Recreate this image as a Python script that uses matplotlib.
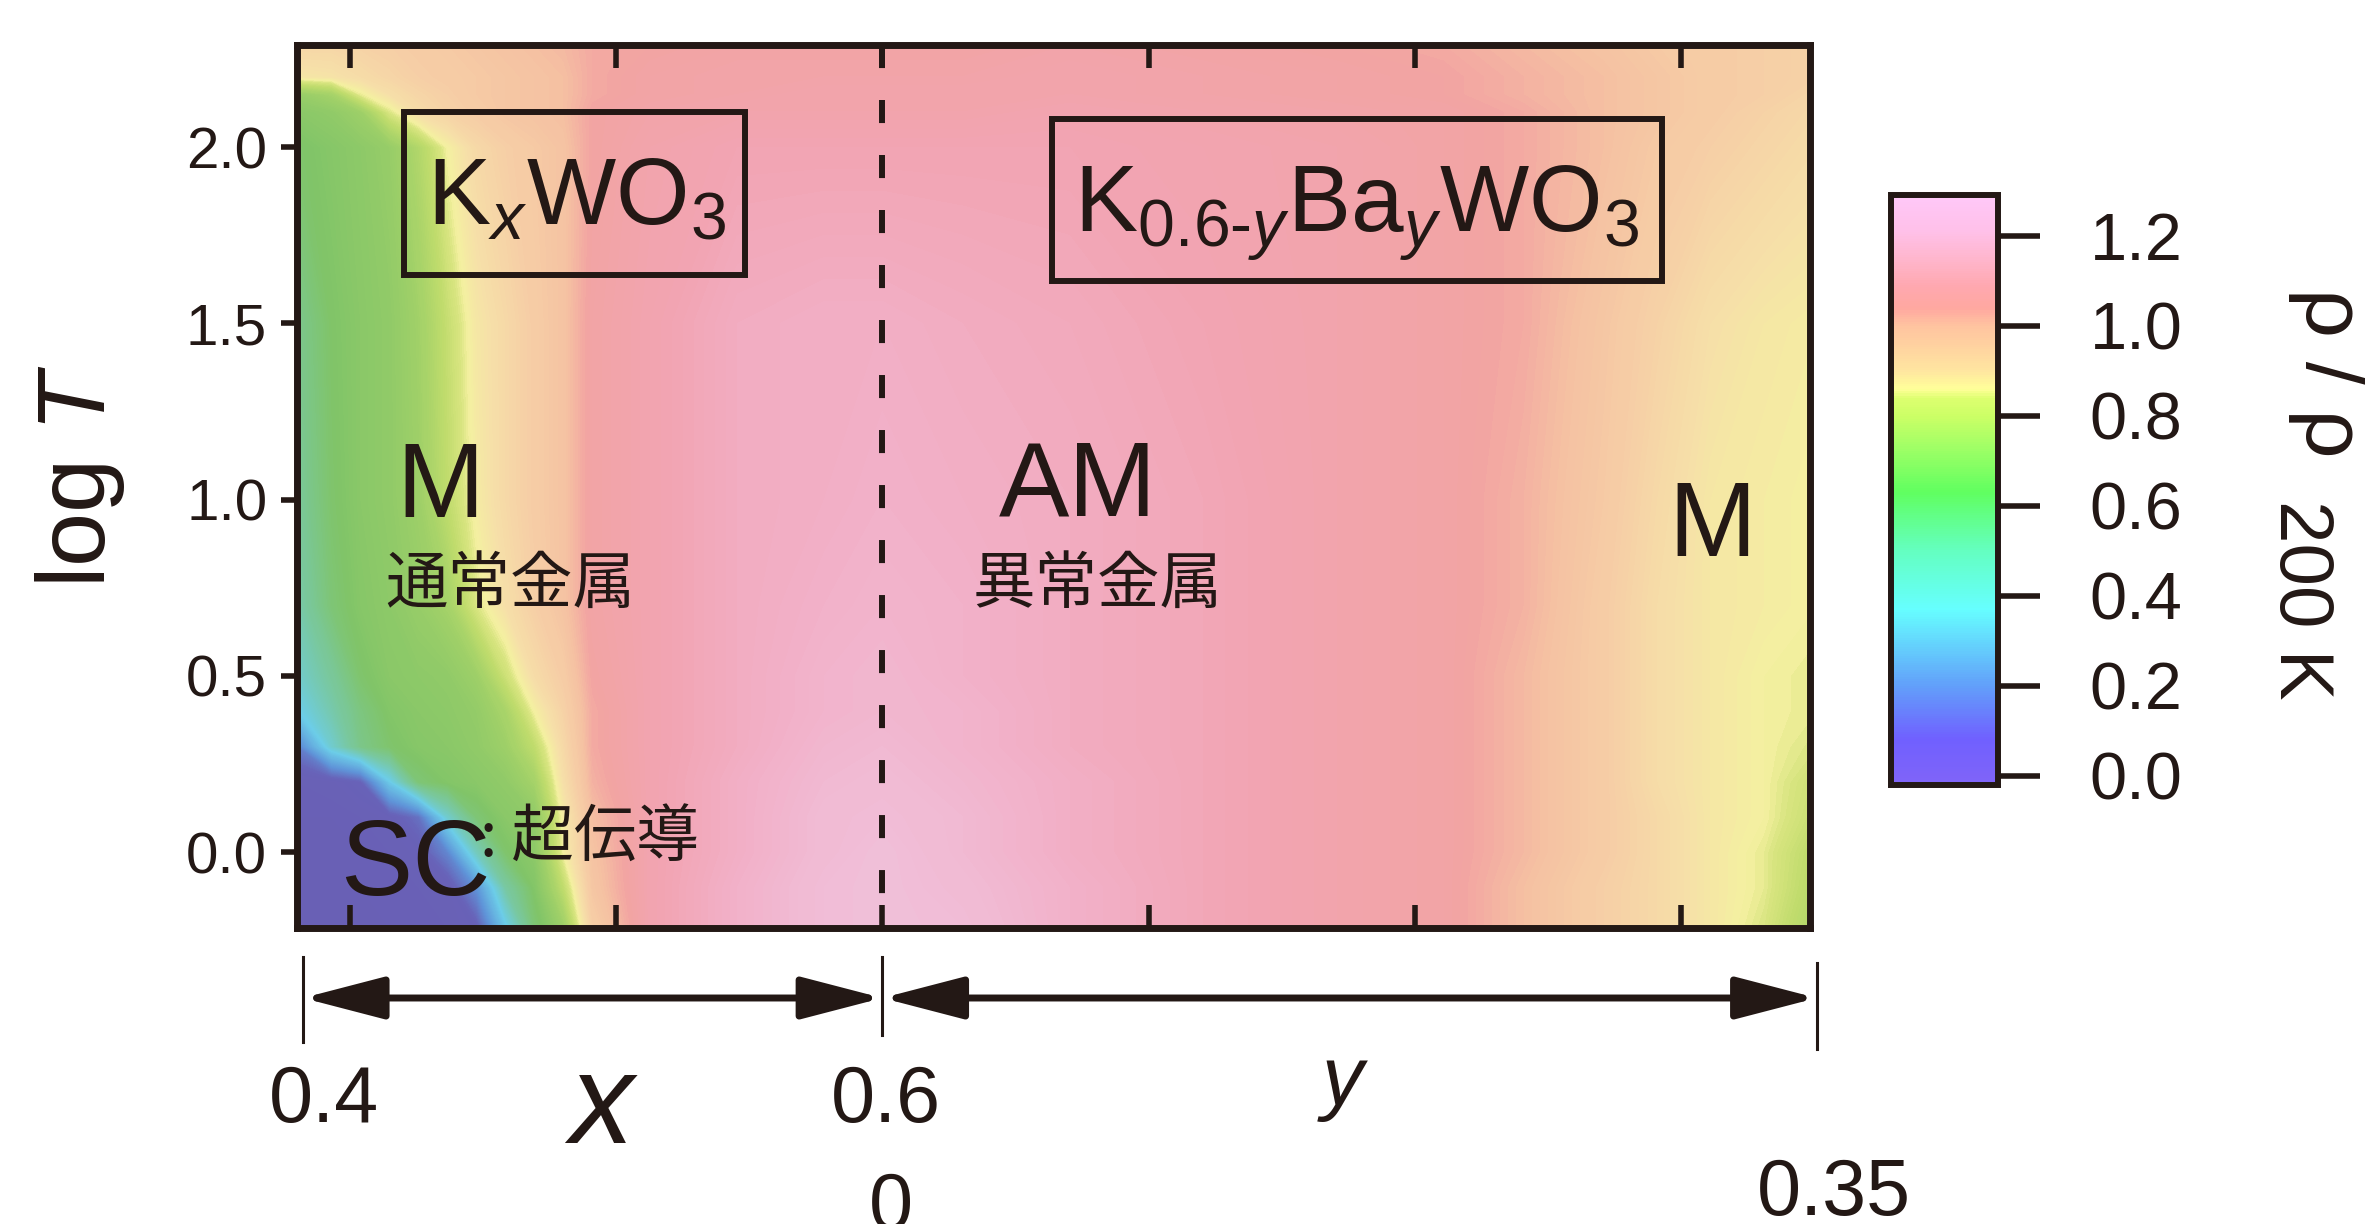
import matplotlib
matplotlib.use('Agg')
import matplotlib.pyplot as plt
import numpy as np
from matplotlib.colors import LinearSegmentedColormap, Normalize
from matplotlib.patches import Rectangle, ArrowStyle
from matplotlib.transforms import blended_transform_factory

plt.rcParams['font.family'] = ['Liberation Sans', 'Noto Sans CJK JP']
plt.rcParams['mathtext.fontset'] = 'custom'
plt.rcParams['mathtext.rm'] = 'Liberation Sans'
plt.rcParams['mathtext.it'] = 'Liberation Sans:italic'
plt.rcParams['mathtext.bf'] = 'Liberation Sans:bold'

ink = '#231815'

# ---- data: rho / rho(200 K) ----
logT_rows = [2.29, 2.2, 2.15, 2.1, 2.0, 1.5, 1.0, 0.7, 0.5, 0.4, 0.3, 0.2, 0.1, 0.0, -0.1, -0.215]

# K_x WO3, x from 0.4 to 0.6
x_K = [0.398, 0.41, 0.42, 0.43, 0.44, 0.45, 0.46, 0.47, 0.48, 0.49, 0.50, 0.52, 0.55, 0.58, 0.60]
rho_KxWO3 = [
    [0.93, 0.93, 0.94, 0.95, 0.96, 0.97, 0.98, 0.99, 1.00, 1.01, 1.03, 1.04, 1.05, 1.05, 1.05],
    [0.88, 0.89, 0.91, 0.93, 0.95, 0.96, 0.97, 0.98, 0.99, 1.00, 1.03, 1.05, 1.06, 1.06, 1.06],
    [0.70, 0.74, 0.85, 0.90, 0.93, 0.95, 0.97, 0.98, 0.99, 1.00, 1.03, 1.05, 1.06, 1.07, 1.07],
    [0.66, 0.68, 0.72, 0.84, 0.91, 0.94, 0.96, 0.98, 0.99, 1.00, 1.04, 1.06, 1.07, 1.07, 1.07],
    [0.62, 0.65, 0.67, 0.70, 0.77, 0.86, 0.92, 0.95, 0.97, 0.99, 1.04, 1.07, 1.09, 1.09, 1.09],
    [0.55, 0.63, 0.66, 0.68, 0.73, 0.81, 0.88, 0.92, 0.96, 0.99, 1.05, 1.08, 1.12, 1.13, 1.13],
    [0.52, 0.62, 0.66, 0.68, 0.72, 0.80, 0.87, 0.92, 0.96, 0.99, 1.05, 1.08, 1.12, 1.13, 1.14],
    [0.48, 0.60, 0.65, 0.67, 0.70, 0.74, 0.84, 0.90, 0.95, 0.99, 1.05, 1.08, 1.12, 1.14, 1.15],
    [0.42, 0.52, 0.62, 0.66, 0.67, 0.68, 0.72, 0.82, 0.91, 0.96, 1.04, 1.08, 1.12, 1.15, 1.16],
    [0.36, 0.48, 0.58, 0.64, 0.66, 0.67, 0.69, 0.75, 0.86, 0.94, 1.03, 1.08, 1.12, 1.15, 1.16],
    [0.15, 0.42, 0.56, 0.62, 0.65, 0.66, 0.68, 0.72, 0.80, 0.92, 1.03, 1.08, 1.12, 1.16, 1.17],
    [0.03, 0.04, 0.08, 0.36, 0.60, 0.64, 0.66, 0.68, 0.74, 0.90, 1.02, 1.08, 1.13, 1.17, 1.18],
    [0.02, 0.02, 0.03, 0.05, 0.12, 0.42, 0.60, 0.66, 0.68, 0.87, 1.00, 1.08, 1.13, 1.18, 1.19],
    [0.02, 0.02, 0.02, 0.03, 0.05, 0.17, 0.45, 0.62, 0.67, 0.86, 0.99, 1.08, 1.13, 1.18, 1.20],
    [0.02, 0.02, 0.02, 0.03, 0.03, 0.04, 0.20, 0.50, 0.64, 0.80, 0.98, 1.08, 1.14, 1.19, 1.20],
    [0.02, 0.02, 0.02, 0.02, 0.03, 0.03, 0.06, 0.35, 0.60, 0.72, 0.95, 1.08, 1.14, 1.19, 1.20],
]

# K_{0.6-y} Ba_y WO3, y from 0 to 0.35 (y = 0 is the x = 0.6 column)
y_Ba = [0.03, 0.07, 0.12, 0.17, 0.21, 0.24, 0.27, 0.29, 0.31, 0.33, 0.35]
rho_KBaWO3 = [
    [1.05, 1.06, 1.05, 1.04, 1.03, 1.01, 0.99, 0.97, 0.96, 0.95, 0.94],
    [1.06, 1.07, 1.06, 1.05, 1.04, 1.02, 1.00, 0.98, 0.96, 0.95, 0.94],
    [1.07, 1.07, 1.06, 1.05, 1.04, 1.02, 1.00, 0.98, 0.96, 0.95, 0.93],
    [1.07, 1.08, 1.07, 1.06, 1.05, 1.03, 1.00, 0.98, 0.96, 0.94, 0.92],
    [1.09, 1.09, 1.08, 1.07, 1.05, 1.03, 1.00, 0.97, 0.95, 0.93, 0.91],
    [1.12, 1.11, 1.09, 1.07, 1.05, 1.03, 0.98, 0.94, 0.90, 0.88, 0.87],
    [1.13, 1.12, 1.10, 1.07, 1.05, 1.02, 0.97, 0.92, 0.88, 0.87, 0.86],
    [1.14, 1.12, 1.10, 1.07, 1.05, 1.02, 0.96, 0.91, 0.88, 0.87, 0.86],
    [1.14, 1.12, 1.10, 1.07, 1.05, 1.01, 0.96, 0.91, 0.88, 0.86, 0.85],
    [1.15, 1.12, 1.10, 1.07, 1.05, 1.01, 0.96, 0.91, 0.88, 0.86, 0.85],
    [1.15, 1.12, 1.10, 1.07, 1.05, 1.01, 0.96, 0.91, 0.88, 0.86, 0.84],
    [1.16, 1.13, 1.10, 1.07, 1.05, 1.01, 0.96, 0.91, 0.88, 0.86, 0.82],
    [1.17, 1.13, 1.10, 1.07, 1.05, 1.01, 0.96, 0.92, 0.88, 0.86, 0.81],
    [1.17, 1.13, 1.10, 1.07, 1.05, 1.01, 0.96, 0.92, 0.88, 0.85, 0.79],
    [1.18, 1.14, 1.10, 1.07, 1.05, 1.00, 0.95, 0.92, 0.88, 0.85, 0.78],
    [1.19, 1.14, 1.10, 1.07, 1.05, 1.00, 0.95, 0.92, 0.88, 0.84, 0.76],
]

cbar_ticks = [0.0, 0.2, 0.4, 0.6, 0.8, 1.0, 1.2]
logT_ticks = [0.0, 0.5, 1.0, 1.5, 2.0]

# colour scale (bar is vivid, the printed map is more muted)
cmap_nodes = [-0.02, 0.08, 0.2, 0.37, 0.5, 0.63, 0.73, 0.8, 0.84, 0.86, 0.9, 0.95, 1.0, 1.04, 1.09, 1.14, 1.21, 1.29]
bar_colors = ['#8064F8', '#7060FF', '#62A0FA', '#66FFFF', '#64FFC0', '#60FF60', '#A0FF66', '#CCFF66',
              '#DDFF70', '#FFFF99', '#FFE6A0', '#FFD4A0', '#FFC4A0', '#FFA8A0', '#FFA8B0', '#FFB4C8',
              '#FFC0E8', '#FFC8F8']
map_colors = ['#6A5FB4', '#6862B8', '#5F94D8', '#6CCDE8', '#78C8A4', '#80C468', '#A0D068', '#C0DC6C',
              '#D8E480', '#F4F0A0', '#F6E0A8', '#F6D0A6', '#F5C0A2', '#F2A4A2', '#F2A4B2', '#F2B0C8',
              '#F0C2DC', '#F0C8E4']

vmin, vmax = -0.02, 1.29
pos = [(v - vmin) / (vmax - vmin) for v in cmap_nodes]
cmap_bar = LinearSegmentedColormap.from_list('bar', list(zip(pos, bar_colors)))
cmap_map = LinearSegmentedColormap.from_list('map', list(zip(pos, map_colors)))
norm = Normalize(vmin, vmax)


# horizontal position of the two composition axes on the shared plot axis
def pos_x(x):
    return -0.177 + (np.asarray(x) - 0.4) * 10.885


def pos_y(y):
    return 2.0 + np.asarray(y) * 10.03


u_cols = np.concatenate([pos_x(x_K), pos_y(y_Ba)])
Z = np.hstack([np.array(rho_KxWO3), np.array(rho_KBaWO3)])
T = np.array(logT_rows)

W, H = 2365, 1224
fig = plt.figure(figsize=(W / 100, H / 100), dpi=100)
ax = fig.add_axes([297 / W, 1 - 928 / H, 1513 / W, 883 / H])

ax.contourf(u_cols, T[::-1], Z[::-1], levels=np.linspace(vmin, vmax, 263),
            cmap=cmap_map, norm=norm, antialiased=False)

ax.set_xlim(-0.199, 5.485)
ax.set_ylim(-0.215, 2.29)

u06 = float(pos_x(0.6))
ax.plot([u06, u06], [2.29, -0.215], color=ink, lw=4.3, dashes=(3.86, 5.35), zorder=3)

for s in ax.spines.values():
    s.set_linewidth(5)
    s.set_color(ink)
ax.set_xticks(range(6))
ax.set_yticks(logT_ticks)
ax.set_yticklabels([f'{t:.1f}' for t in logT_ticks])
ax.tick_params(axis='x', direction='in', top=True, bottom=True, length=16.5, width=4,
               labelbottom=False, color=ink)
ax.tick_params(axis='y', direction='out', left=True, right=False, length=11.5, width=4,
               labelsize=42, pad=10, colors=ink)

# boxes with compound names
ax.add_patch(Rectangle(((404 - 297) / 1513, (928 - 275) / 883), 341 / 1513, 163 / 883,
                       transform=ax.transAxes, fill=False, lw=4.3, ec=ink, zorder=4))
ax.add_patch(Rectangle(((1052 - 297) / 1513, (928 - 281) / 883), 610 / 1513, 162 / 883,
                       transform=ax.transAxes, fill=False, lw=4.3, ec=ink, zorder=4))
ax.text(0.289, 1.781, r'K$_x$WO$_3$', fontsize=68, color=ink, va='baseline', ha='left', zorder=5)
ax.text(2.72, 1.761, r'K$_{0.6\text{-}y}$Ba$_y$WO$_3$', fontsize=68, color=ink,
        va='baseline', ha='left', zorder=5)

# phase labels
ax.text(0.338, 0.952, 'M', fontsize=76, color=ink, ha='center', va='baseline')
ax.text(0.601, 0.707, '通常金属', fontsize=45, color=ink, ha='center', va='baseline',
        family=['Noto Sans CJK JP'])
ax.text(2.735, 0.955, 'AM', fontsize=76, color=ink, ha='center', va='baseline')
ax.text(2.810, 0.707, '異常金属', fontsize=45, color=ink, ha='center', va='baseline',
        family=['Noto Sans CJK JP'])
ax.text(5.117, 0.841, 'M', fontsize=76, color=ink, ha='center', va='baseline')
ax.text(0.244, -0.122, 'SC', fontsize=78, color=ink, ha='center', va='baseline')
ax.text(0.488, -0.014, ': 超伝導', fontsize=45, color=ink, ha='left', va='baseline',
        family=['Noto Sans CJK JP'])

# y label
fig.text(80 / W, 1 - 476 / H, r'log $T$', fontsize=70, rotation=90, ha='center', va='center', color=ink)

# composition arrows under the map
u04, u035 = float(pos_x(0.4)), float(pos_y(0.35))
bt = blended_transform_factory(ax.transData, fig.transFigure)
arrow_y = 1 - 998 / H
for a, b in [(u04, u06), (u06, u035)]:
    ax.annotate('', xy=(a, arrow_y), xytext=(b, arrow_y),
                xycoords=('data', 'figure fraction'), textcoords=('data', 'figure fraction'),
                annotation_clip=False,
                arrowprops=dict(arrowstyle=ArrowStyle('<|-|>', head_length=50, head_width=13),
                                mutation_scale=1, lw=5, color=ink, shrinkA=0, shrinkB=0))
for u, y0, y1 in [(u04, 957, 1042), (u06, 957, 1035), (u035, 963, 1049)]:
    ax.plot([u, u], [1 - y0 / H, 1 - y1 / H], transform=bt, clip_on=False, color=ink, lw=2.2)

fig.text(324 / W, 1 - 1122 / H, '0.4', fontsize=57, ha='center', va='baseline', color=ink)
fig.text(886 / W, 1 - 1122 / H, '0.6', fontsize=57, ha='center', va='baseline', color=ink)
fig.text(891 / W, 1 - 1229 / H, '0', fontsize=57, ha='center', va='baseline', color=ink)
fig.text(1834 / W, 1 - 1215 / H, '0.35', fontsize=57, ha='center', va='baseline', color=ink)
fig.text(601 / W, 1 - 1143 / H, r'$x$', fontsize=92, ha='center', va='baseline', color=ink)
fig.text(1343 / W, 1 - 1105 / H, r'$y$', fontsize=60, ha='center', va='baseline', color=ink)

# colour bar
cax = fig.add_axes([1891 / W, 1 - 785 / H, 107 / W, 590 / H])
sm = plt.cm.ScalarMappable(norm=norm, cmap=cmap_bar)
cb = fig.colorbar(sm, cax=cax, ticks=cbar_ticks)
cb.ax.set_yticklabels([f'{t:.1f}' for t in cbar_ticks])
cb.outline.set_linewidth(4.3)
cb.outline.set_edgecolor(ink)
cb.ax.tick_params(direction='out', length=30, width=4, labelsize=48, pad=36, colors=ink)
fig.text(2306 / W, 1 - 288 / H, 'ρ / ρ', fontsize=62, rotation=-90, rotation_mode='anchor',
         ha='left', va='baseline', color=ink)
fig.text(2280 / W, 1 - 500 / H, '200 K', fontsize=55, rotation=-90, rotation_mode='anchor',
         ha='left', va='baseline', color=ink)

fig.savefig('out.png', dpi=100)
